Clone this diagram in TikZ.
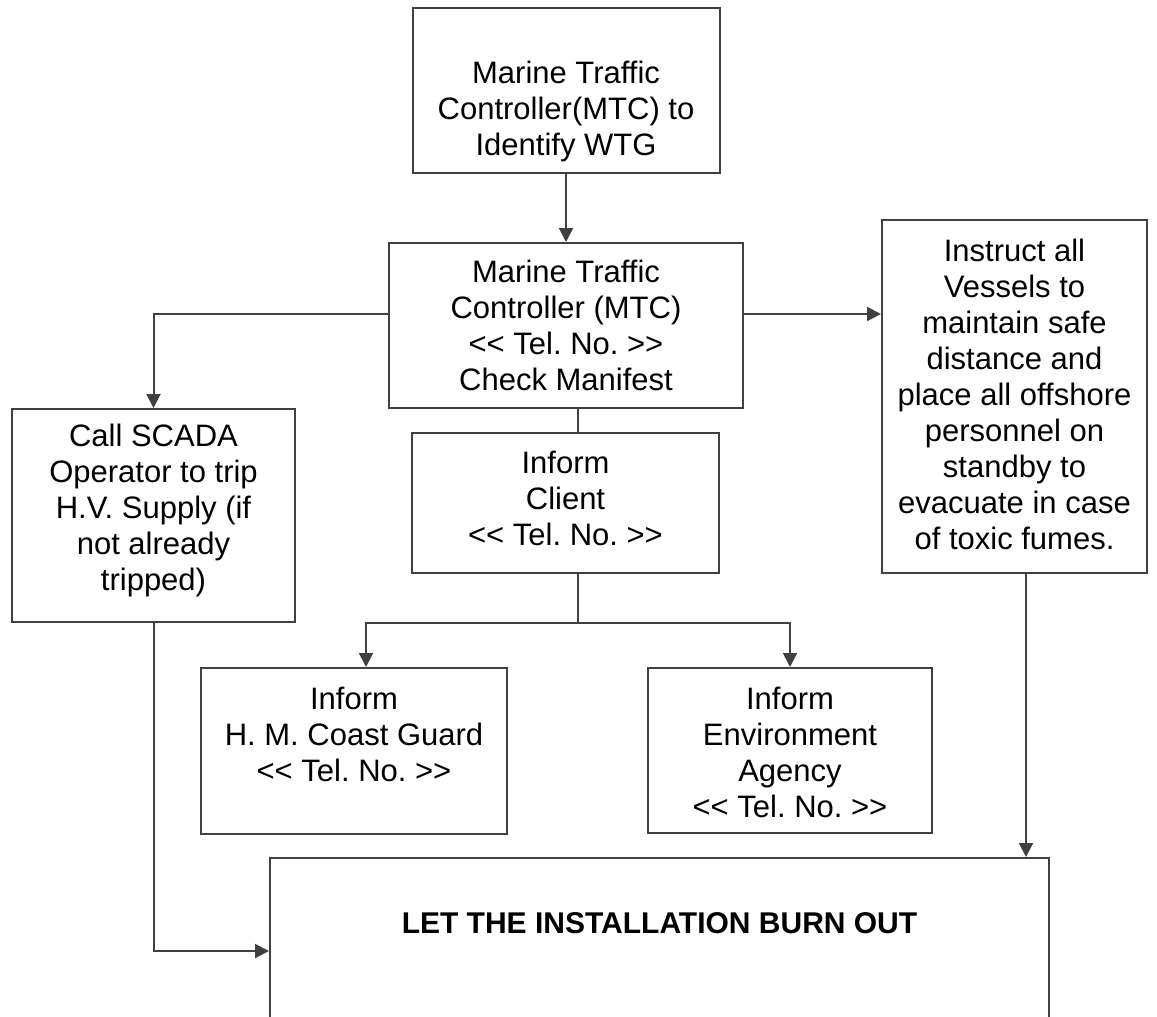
\documentclass[tikz,border=0pt]{standalone}
\usepackage{fontspec}
\setmainfont{Liberation Sans}
\usetikzlibrary{arrows.meta}
\frenchspacing

\begin{document}
\begin{tikzpicture}[
  x=1pt, y=-1pt,
  line width=2pt,
  box/.style={draw=black!75, rectangle, inner sep=0pt},
  txt/.style={align=center, inner sep=0pt, text=black,
              font=\fontsize{31}{36}\selectfont},
  bold/.style={inner sep=0pt, text=black,
               font=\fontsize{30}{36}\selectfont\bfseries},
  link/.style={draw=black!75},
  arr/.style={link, -{Triangle[length=14pt,width=14pt]}}
]
\useasboundingbox (0,0) rectangle (1157,1017);
\fill[white] (0,0) rectangle (1157,1017);
\clip (0,0) rectangle (1157,1017);

% boxes (centre, size)
\node[box, minimum width=307, minimum height=165] (mtcid)  at (566, 90.5) {};
\node[box, minimum width=354, minimum height=165] (mtc)    at (566, 325.5) {};
\node[box, minimum width=283, minimum height=213] (scada)  at (153.5, 515.5) {};
\node[box, minimum width=265, minimum height=353] (vessel) at (1014.5, 396.5) {};
\node[box, minimum width=307, minimum height=140] (client) at (565.5, 503) {};
\node[box, minimum width=306, minimum height=166] (hmcg)   at (354, 751) {};
\node[box, minimum width=284, minimum height=165] (envag)  at (790, 750.5) {};
\node[box, minimum width=779, minimum height=186] (burn)   at (659.5, 951) {};

% box texts
\node[txt] (mtcidtxt) at (566, 111) {Marine Traffic\\Controller(MTC) to\\Identify WTG};
\node[txt] (mtctxt) at (566, 325) {Marine Traffic\\Controller (MTC)\\<{}< Tel. No. >{}>\\Check Manifest};
\node[txt] (scadatxt) at (153.5, 510) {Call SCADA\\Operator to trip\\H.V. Supply (if\\not already\\tripped)};
\node[txt] (vesseltxt) at (1014.5, 394) {Instruct all\\Vessels to\\maintain safe\\distance and\\place all offshore\\personnel on\\standby to\\evacuate in case\\of toxic fumes.};
\node[txt] (clienttxt) at (565.5, 498) {Inform\\Client\\<{}< Tel. No. >{}>};
\node[txt] (hmcgtxt) at (354, 734) {Inform\\H. M. Coast Guard\\<{}< Tel. No. >{}>};
\node[txt] (envagtxt) at (790, 752) {Inform\\Environment\\Agency\\<{}< Tel. No. >{}>};
\node[bold] (burntxt) at (659.5, 923) {LET THE INSTALLATION BURN OUT};

% connectors
\draw[arr] (mtcid.south) -- (mtc.north);
\draw[arr] ([yshift=11.5pt]mtc.west) -| (scada.north);
\draw[arr] ([yshift=11.5pt]mtc.east) -- ([yshift=11.5pt]mtc.east -| vessel.west);
\draw[link] ([xshift=12pt]mtc.south) -- ([xshift=12pt]mtc.south |- client.north);
\draw[link] ([xshift=12.5pt]client.south) -- ++(0,49) coordinate (split);
\draw[arr] (split) -| ([xshift=12pt]hmcg.north);
\draw[arr] (split) -| (envag.north);
\draw[arr] (scada.south) |- (burn.west);
\draw[arr] ([xshift=11.5pt]vessel.south) -- ([xshift=11.5pt]vessel.south |- burn.north);
\end{tikzpicture}
\end{document}
